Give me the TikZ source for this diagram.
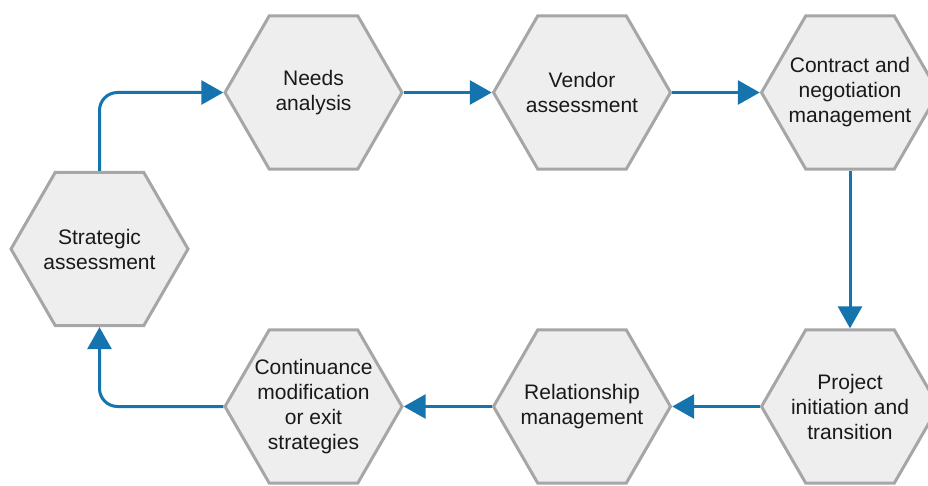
\documentclass[tikz,border=0pt]{standalone}
\usepackage{fontspec}
\setmainfont{Liberation Sans}
\usetikzlibrary{shapes.geometric,arrows.meta}

\definecolor{hexfill}{HTML}{EEEEEE}
\definecolor{hexline}{HTML}{A6A6A6}
\definecolor{flowblue}{HTML}{1574AE}

\begin{document}
\begin{tikzpicture}[x=1pt, y=1pt,
    stage/.style={regular polygon, regular polygon sides=6, minimum size=177pt,
        inner sep=0pt, draw=hexline, line width=3pt, fill=hexfill,
        label={[stagetext]center:#1}},
    stagetext/.style={align=center, inner sep=0pt, text=black!90,
        font=\fontsize{21}{25}\selectfont},
    flow/.style={draw=flowblue, line width=3pt, rounded corners=18pt,
        -{Triangle[length=22pt, width=24pt]}}]
    \useasboundingbox (0,0) rectangle (928,485);

    % Left stage
    \node[stage={Strategic\\assessment}] (strategic) at (99.5,236) {};

    % Top row
    \node[stage={Needs\\analysis}] (needs) at (313.5,392.5) {};
    \node[stage={Vendor\\assessment}] (vendor) at (582,392.5) {};
    \node[stage={Contract and\\negotiation\\management}] (contract) at (850,392.5) {};

    % Bottom row
    \node[stage={Project\\initiation and\\transition}] (project) at (850,78.5) {};
    \node[stage={Relationship\\management}] (relationship) at (582,78.5) {};
    \node[stage={Continuance\\modification\\or exit\\strategies}] (continuance) at (313.5,78.5) {};

    % Flow round the cycle
    \draw[flow] (strategic.north) |- (needs.west);
    \draw[flow] (needs) -- (vendor);
    \draw[flow] (vendor) -- (contract);
    \draw[flow] (contract) -- (project);
    \draw[flow] (project) -- (relationship);
    \draw[flow] (relationship) -- (continuance);
    \draw[flow] (continuance.west) -| (strategic.south);
\end{tikzpicture}
\end{document}
